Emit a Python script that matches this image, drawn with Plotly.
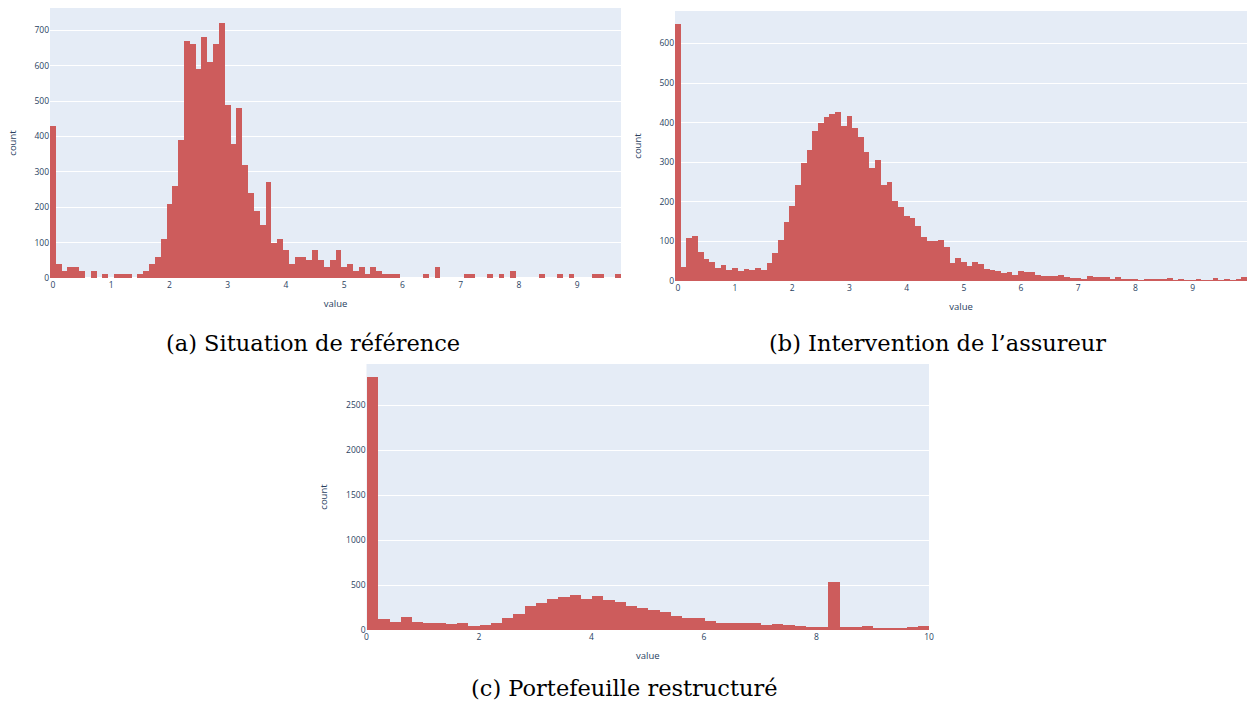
import plotly.graph_objects as go

W, H = 1247, 704

# ---- data (counts per bin) ----
a_bin_width = 0.1
a_counts = [430, 40, 20, 30, 30, 20, 0, 20, 0, 10,
            0, 10, 10, 10, 0, 10, 20, 40, 60, 110,
            210, 260, 390, 670, 660, 590, 680, 610, 660, 720,
            490, 380, 480, 320, 240, 190, 150, 270, 100, 110,
            80, 40, 60, 60, 50, 80, 50, 30, 50, 80,
            30, 40, 20, 30, 10, 30, 20, 10, 10, 10,
            0, 0, 0, 0, 10, 0, 30, 0, 0, 0,
            0, 10, 10, 0, 0, 10, 0, 10, 0, 20,
            0, 0, 0, 0, 10, 0, 0, 10, 0, 10,
            0, 0, 0, 10, 10, 0, 0, 10]

b_bin_width = 0.1
b_counts = [648, 36, 108, 114, 74, 56, 47, 32, 40, 29,
            32, 26, 30, 29, 32, 28, 46, 71, 104, 149,
            189, 242, 297, 330, 378, 399, 415, 421, 428, 391,
            416, 386, 365, 327, 285, 306, 242, 249, 202, 186,
            164, 159, 140, 110, 101, 101, 104, 85, 46, 59,
            48, 39, 48, 43, 31, 29, 26, 19, 24, 15,
            26, 24, 23, 15, 13, 13, 13, 16, 10, 8,
            8, 5, 13, 10, 11, 10, 6, 10, 4, 5,
            4, 2, 4, 4, 4, 4, 8, 2, 4, 2,
            2, 4, 2, 2, 8, 2, 3, 2, 5, 10]

c_bin_width = 0.2
c_counts = [2810, 122, 89, 141, 89, 82, 74, 63, 74, 48,
            59, 78, 130, 174, 263, 300, 349, 371, 386, 349,
            375, 330, 312, 265, 241, 223, 200, 152, 137, 130,
            104, 74, 74, 74, 74, 56, 63, 56, 41, 30,
            30, 530, 30, 30, 41, 26, 26, 15, 30, 45]

a_centers = [round(i * a_bin_width, 2) for i in range(len(a_counts))]
b_centers = [round(i * b_bin_width, 2) for i in range(len(b_counts))]
c_centers = [round(c_bin_width / 2 + i * c_bin_width, 2) for i in range(len(c_counts))]

captions = ["(a) Situation de référence",
            "(b) Intervention de l\u2019assureur",
            "(c) Portefeuille restructuré"]

BAR = "indianred"

fig = go.Figure()
for xs, ys, wd, xa, ya in [(a_centers, a_counts, a_bin_width, "x", "y"),
                           (b_centers, b_counts, b_bin_width, "x2", "y2"),
                           (c_centers, c_counts, c_bin_width, "x3", "y3")]:
    fig.add_trace(go.Bar(x=xs, y=ys, width=wd, marker_color=BAR,
                         marker_line_width=0, xaxis=xa, yaxis=ya,
                         showlegend=False))


def px_x(x):
    return x / W


def px_y(y):
    return (H - y) / H


tickfont = dict(size=8.5, color="#2a3f5f")
titlefont = dict(size=9.5, color="#2a3f5f")

common_x = dict(tickfont=tickfont, title_font=titlefont, automargin=False,
                title_text="value", title_standoff=11, showgrid=False, zeroline=False)
common_y = dict(tickfont=tickfont, title_font=titlefont, automargin=False,
                title_text="count", title_standoff=16)

fig.update_layout(
    width=W, height=H,
    template="plotly",
    paper_bgcolor="white",
    margin=dict(l=0, r=0, t=0, b=0),
    bargap=0,
    xaxis=dict(domain=[px_x(50), px_x(621)], range=[-0.05, 9.75], dtick=1,
               anchor="y", **common_x),
    yaxis=dict(domain=[px_y(278), px_y(8)], range=[0, 763], dtick=100,
               anchor="x", **common_y),
    xaxis2=dict(domain=[px_x(675), px_x(1247)], range=[-0.05, 9.95], dtick=1,
                anchor="y2", **common_x),
    yaxis2=dict(domain=[px_y(281), px_y(11)], range=[0, 682], dtick=100,
                anchor="x2", **common_y),
    xaxis3=dict(domain=[px_x(366.5), px_x(929)], range=[0, 10], dtick=2,
                anchor="y3", **common_x),
    yaxis3=dict(domain=[px_y(630), px_y(364)], range=[0, 2960], dtick=500,
                anchor="x3", **common_y),
)

cap_font = dict(family="DejaVu Serif", size=22.5, color="black")
for text, cx, cy in zip(captions, [313.5, 937, 624], [343, 343, 688]):
    fig.add_annotation(text=text, xref="paper", yref="paper",
                       x=px_x(cx), y=px_y(cy), xanchor="center", yanchor="middle",
                       showarrow=False, font=cap_font)

fig.write_html("out.html", config={"displayModeBar": False},
               post_script="document.body.style.margin='0';document.body.style.overflow='hidden';")
